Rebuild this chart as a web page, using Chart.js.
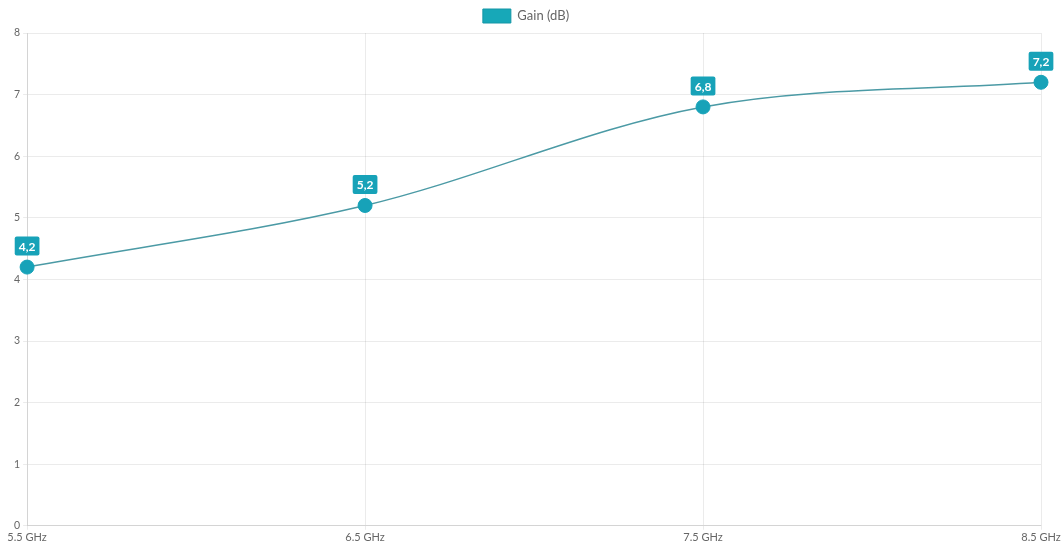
<!DOCTYPE html>
<html>
<head>
<meta charset="utf-8">
<script src="https://cdn.jsdelivr.net/npm/chart.js@4.4.1/dist/chart.umd.min.js"></script>
<style>
  html, body { margin: 0; padding: 0; background: #fff; }
  #wrap { width: 1063px; height: 545px; position: relative; }
</style>
</head>
<body>
<div id="wrap"><canvas id="c"></canvas></div>
<script>
// Frequency points and measured antenna gain
const frequencies = ['5.5 GHz', '6.5 GHz', '7.5 GHz', '8.5 GHz'];
const gainValues = [4.2, 5.2, 6.8, 7.2];
const seriesLabel = 'Gain (dB)';

const TEAL = '#17a2b8';
const LINE = '#4b9aa5';

// Draws a value badge above each point, with a comma as decimal separator
const valueBadges = {
  id: 'valueBadges',
  afterDatasetsDraw(chart) {
    const ctx = chart.ctx;
    ctx.save();
    ctx.font = 'bold 12px Lato, "Open Sans", sans-serif';
    ctx.textAlign = 'center';
    ctx.textBaseline = 'middle';
    chart.getDatasetMeta(0).data.forEach((pt, i) => {
      const text = String(gainValues[i]).replace('.', ',');
      const w = ctx.measureText(text).width + 8;
      const h = 19;
      const cx = pt.x;
      const cy = pt.y - 21;
      ctx.fillStyle = TEAL;
      ctx.beginPath();
      ctx.roundRect(cx - w / 2, cy - h / 2, w, h, 2);
      ctx.fill();
      ctx.fillStyle = '#ffffff';
      ctx.fillText(text, cx, cy + 1);
    });
    ctx.restore();
  }
};

Chart.defaults.font.family = 'Lato, "Open Sans", sans-serif';
Chart.defaults.color = '#666';

new Chart(document.getElementById('c'), {
  type: 'line',
  data: {
    labels: frequencies,
    datasets: [{
      label: seriesLabel,
      data: gainValues,
      borderColor: LINE,
      backgroundColor: TEAL,
      borderWidth: 1.5,
      pointRadius: 7,
      pointHoverRadius: 7,
      pointBackgroundColor: TEAL,
      pointBorderColor: TEAL,
      pointBorderWidth: 1,
      tension: 0.4,
      cubicInterpolationMode: 'monotone',
      fill: false
    }]
  },
  options: {
    responsive: true,
    maintainAspectRatio: false,
    animation: false,
    layout: { padding: { left: 11, right: 22, top: 1, bottom: 0 } },
    plugins: {
      legend: {
        labels: {
          boxWidth: 28,
          boxHeight: 14,
          padding: 8,
          font: { size: 13 },
          color: '#666',
          generateLabels(chart) {
            return [{
              text: seriesLabel,
              fillStyle: '#17a8b8',
              strokeStyle: '#1496a6',
              fontColor: '#666',
              lineWidth: 1,
              datasetIndex: 0
            }];
          }
        }
      },
      tooltip: { enabled: false }
    },
    scales: {
      x: {
        grid: { color: 'rgba(0,0,0,0.08)', tickLength: 4 },
        ticks: { font: { size: 11 }, padding: 1, maxRotation: 0, color: '#666' }
      },
      y: {
        min: 0,
        max: 8,
        grid: { color: 'rgba(0,0,0,0.08)', tickLength: 4 },
        ticks: { stepSize: 1, font: { size: 10.5 }, padding: 3, color: '#666' }
      }
    }
  },
  plugins: [valueBadges]
});
</script>
</body>
</html>
